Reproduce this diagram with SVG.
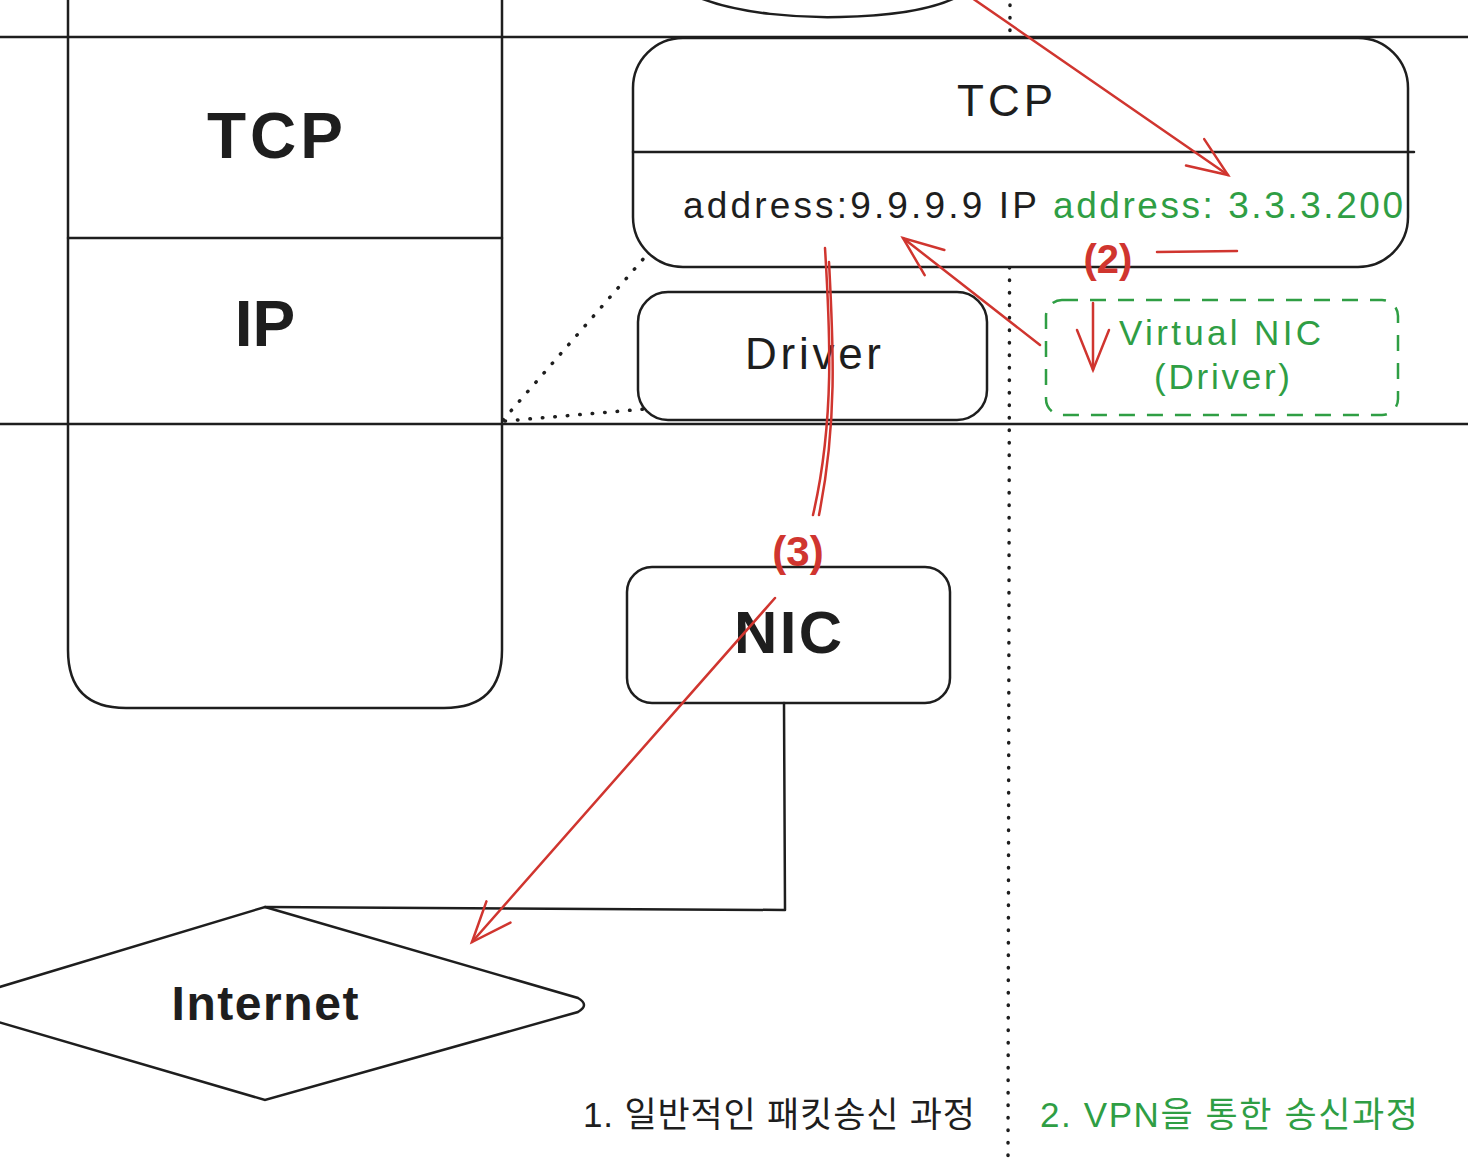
<svg xmlns="http://www.w3.org/2000/svg" width="1468" height="1166" viewBox="0 0 1468 1166">
<style>
.ln{fill:none;stroke:#1e1e1e;stroke-width:2.5;stroke-linecap:round;stroke-linejoin:round}
.box{fill:#ffffff;stroke:#1e1e1e;stroke-width:2.5}
.red{fill:none;stroke:#d0352f;stroke-width:2.5;stroke-linecap:round}
.dot{fill:none;stroke:#1e1e1e;stroke-width:3.5;stroke-linecap:round;stroke-dasharray:0.5 12}
.t{font-family:"Liberation Sans","Noto Sans CJK KR",sans-serif;fill:#1e1e1e;text-anchor:middle}
.s{text-anchor:start}
.g{fill:#2f9e44}
.r{fill:#d0352f;font-weight:bold}
</style>
<defs>
<marker id="ah" viewBox="-45 -25 50 50" refX="0" refY="0" markerWidth="50" markerHeight="50" markerUnits="userSpaceOnUse" orient="auto">
<path d="M-40,-16 L0,0 L-40,16" fill="none" stroke="#d0352f" stroke-width="2.5" stroke-linecap="round"/>
</marker>
</defs>
<rect width="1468" height="1166" fill="#ffffff"/>

<g id="layers">
<line class="ln" x1="0" y1="37" x2="1468" y2="37"/>
<line class="ln" x1="0" y1="424" x2="1468" y2="424"/>
<line class="dot" x1="1010" y1="5" x2="1008" y2="1162"/>
</g>

<g id="top-ellipse">
<path class="ln" d="M700,-2 C740,14 800,18 840,17 C890,16 930,10 955,-2"/>
</g>

<g id="host-stack">
<path class="ln" d="M68,-5 L68,650 Q68,708 126,708 L444,708 Q502,708 502,650 L502,-5"/>
<line class="ln" x1="68" y1="238" x2="502" y2="238"/>
<text class="t" x="275" y="158" font-size="64" font-weight="bold" textLength="136">TCP</text>
<text class="t" x="265" y="346" font-size="64" font-weight="bold">IP</text>
</g>

<g id="vpn-stack">
<rect class="box" x="633" y="38" width="775" height="229" rx="50"/>
<line class="ln" x1="633" y1="152" x2="1414" y2="152"/>
<text class="t" x="1005" y="116" font-size="44" textLength="96">TCP</text>
<text class="t s" x="683" y="218" font-size="37" textLength="354">address:9.9.9.9  IP</text>
<text class="t g s" x="1053" y="218" font-size="37" textLength="350">address: 3.3.3.200</text>
</g>

<g id="driver">
<rect class="box" x="638" y="292" width="349" height="128" rx="30"/>
<text class="t" x="813" y="369" font-size="44" textLength="136">Driver</text>
</g>

<g id="virtual-nic">
<rect x="1046" y="300" width="352" height="115" rx="16" fill="none" stroke="#2f9e44" stroke-width="2.5" stroke-dasharray="16 12"/>
<text class="t g" x="1220" y="345" font-size="35" textLength="202">Virtual NIC</text>
<text class="t g" x="1222" y="389" font-size="35" textLength="136">(Driver)</text>
</g>

<g id="nic">
<rect class="box" x="627" y="567" width="323" height="136" rx="25"/>
<text class="t" x="788" y="653" font-size="60" font-weight="bold" textLength="108">NIC</text>
</g>

<g id="internet">
<path class="box" d="M265,907 L578,998 Q590,1005 578,1012 L265,1100 L-60,1005 Z"/>
<text class="t" x="265" y="1020" font-size="48" font-weight="bold" textLength="187">Internet</text>
</g>

<g id="captions">
<text class="t s" x="583" y="1127" font-size="35" textLength="392">1. 일반적인 패킷송신 과정</text>
<text class="t g s" x="1040" y="1127" font-size="35" textLength="378">2. VPN을 통한 송신과정</text>
<text class="t r" x="1108" y="273" font-size="40">(2)</text>
<text class="t r" x="798" y="566" font-size="42">(3)</text>
</g>

<g id="connectors">
<path class="dot" d="M503,420 L645,257"/>
<path class="dot" d="M505,421 L645,409"/>
<path class="ln" d="M784,703 L785,910 L265,907"/>
<path class="red" d="M972,-2 L1228,175" marker-end="url(#ah)"/>
<path class="red" d="M1040,345 L903,238" marker-end="url(#ah)"/>
<path class="red" d="M1093,303 L1093,370" marker-end="url(#ah)"/>
<path class="red" d="M775,598 L472,942" marker-end="url(#ah)"/>
<path class="red" d="M1157,252 L1237,251"/>
<path class="red" d="M825,248 C830,330 835,420 813,515"/>
<path class="red" d="M829,262 C833,340 838,420 819,515"/>
</g>
</svg>
